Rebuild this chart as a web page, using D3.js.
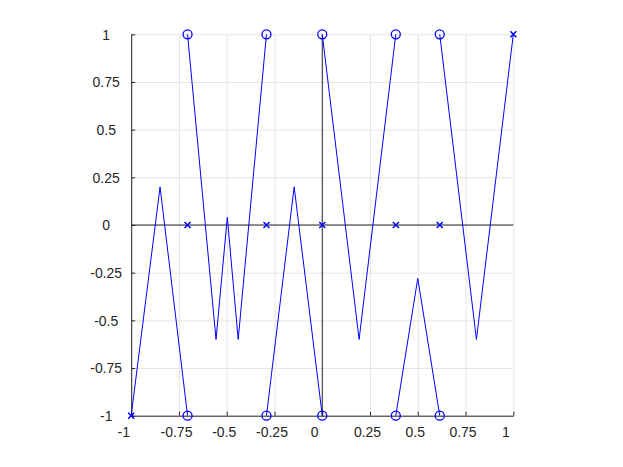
<!DOCTYPE html>
<html><head>
<meta charset="utf-8">
<script src="https://d3js.org/d3.v7.min.js"></script>
<style>
  body { margin: 0; background: #fff; }
  .grid line { stroke: #e6e6e6; }
  .grid .domain { stroke: none; }
  .tick text { font-family: "Liberation Sans", Arial, sans-serif; font-size: 14px; fill: #262626; }
</style>
</head>
<body>
<svg id="chart" width="623" height="467"></svg>
<script>
// tick values
let xTicks = [-1, -0.75, -0.5, -0.25, 0, 0.25, 0.5, 0.75, 1];
let yTicks = [-1, -0.75, -0.5, -0.25, 0, 0.25, 0.5, 0.75, 1];

// marker x positions (circles at +-1, crosses at 0)
let markX = [-0.705, -0.292, 0, 0.385, 0.615];
let endX = [-1, 1];
let endY = [-1, 1];

// the line, split into pieces (jumps at the circles)
let pieceX = [
  [-1, -0.849, -0.705],
  [-0.705, -0.556, -0.497, -0.44, -0.292],
  [-0.292, -0.147, 0],
  [0, 0.193, 0.385],
  [0.385, 0.5, 0.615],
  [0.615, 0.807, 1]
];
let pieceY = [
  [-1, 0.2, -1],
  [1, -0.6, 0.04, -0.6, 1],
  [-1, 0.2, -1],
  [1, -0.6, 1],
  [-1, -0.28, -1],
  [1, -0.6, 1]
];

let svg = d3.select("svg#chart");
let margin = { top: 34.3, left: 131.2, right: 623 - 513.3, bottom: 467 - 415.7 };
let w = 623 - margin.left - margin.right;
let h = 467 - margin.top - margin.bottom;

let x = d3.scaleLinear().domain([-1, 1]).range([0, w]);
let y = d3.scaleLinear().domain([-1, 1]).range([h, 0]);

let g = svg.append("g").attr("transform", "translate(" + margin.left + "," + margin.top + ")");

// gridlines
g.append("g").attr("class", "grid")
  .call(d3.axisBottom(x).tickValues(xTicks).tickSize(h).tickFormat(""));
g.append("g").attr("class", "grid")
  .call(d3.axisLeft(y).tickValues(yTicks).tickSize(-w).tickFormat(""));

// axes (ticks pointing inward)
let fmt = d => d3.format("")(d).replace("\u2212", "-");
let xAxis = g.append("g").attr("transform", "translate(0," + h + ")")
  .call(d3.axisBottom(x).tickValues(xTicks).tickSizeInner(-4).tickSizeOuter(0).tickFormat(fmt));
xAxis.selectAll(".tick text")
  .attr("y", 0).attr("dy", "21px")
  .attr("dx", d => fmt(d).length <= 2 ? -8 : -3);
let yAxis = g.append("g")
  .call(d3.axisLeft(y).tickValues(yTicks).tickSizeInner(-4).tickSizeOuter(0).tickFormat(fmt));
yAxis.selectAll(".tick text")
  .attr("text-anchor", "middle").attr("x", -25).attr("dy", "0.35em");
svg.selectAll(".domain").attr("stroke", "#262626");
svg.selectAll(".tick line").filter(function() { return !this.closest(".grid"); }).attr("stroke", "#262626");

// zero lines
g.append("line").attr("x1", x(-1)).attr("x2", x(1)).attr("y1", y(0)).attr("y2", y(0))
  .attr("stroke", "#262626");
g.append("line").attr("x1", x(0)).attr("x2", x(0)).attr("y1", y(-1)).attr("y2", y(1))
  .attr("stroke", "#262626");

// line pieces
let line = d3.line().x(d => x(d[0])).y(d => y(d[1]));
pieceX.forEach((xs, i) => {
  let pts = xs.map((v, j) => [v, pieceY[i][j]]);
  g.append("path").datum(pts).attr("d", line)
    .attr("fill", "none").attr("stroke", "#0000ff").attr("stroke-width", 1);
});

// circles at +-1
let circ = [];
markX.forEach(v => { circ.push([v, 1]); circ.push([v, -1]); });
g.selectAll("circle.mk").data(circ).enter().append("circle")
  .attr("cx", d => x(d[0])).attr("cy", d => y(d[1])).attr("r", 4.5)
  .attr("fill", "none").attr("stroke", "#0000ff").attr("stroke-width", 1.3);

// crosses
let cross = markX.map(v => [v, 0]).concat(endX.map((v, i) => [v, endY[i]]));
let s = 3;
g.selectAll("path.cross").data(cross).enter().append("path")
  .attr("d", d => {
    let cx = x(d[0]), cy = y(d[1]);
    return "M" + (cx - s) + "," + (cy - s) + "L" + (cx + s) + "," + (cy + s) +
           "M" + (cx - s) + "," + (cy + s) + "L" + (cx + s) + "," + (cy - s);
  })
  .attr("stroke", "#0000ff").attr("stroke-width", 1.5).attr("fill", "none");
</script>
</body>
</html>
